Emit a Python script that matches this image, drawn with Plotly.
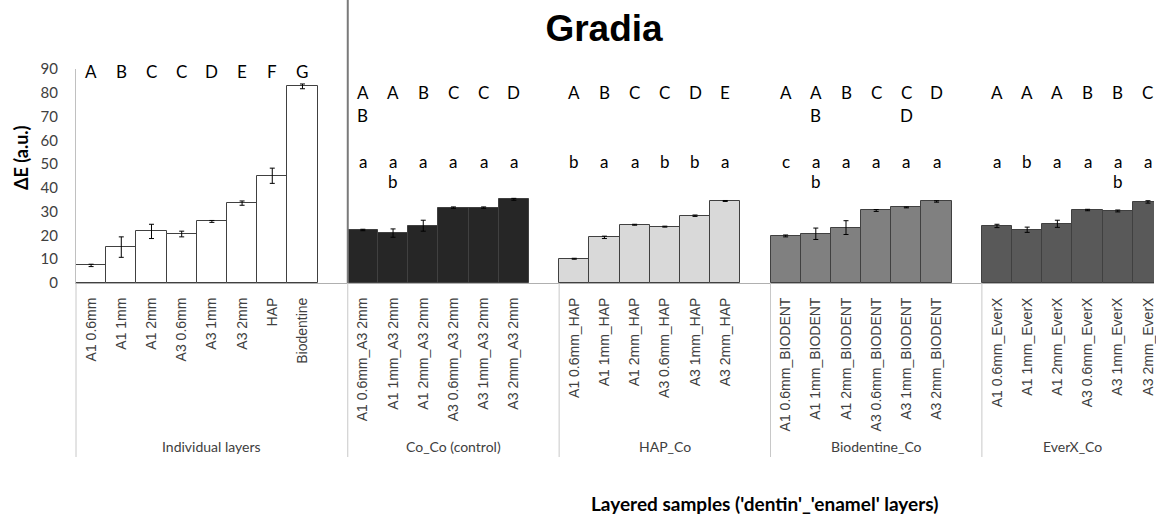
import plotly.graph_objects as go

# ---------------- data ----------------
group_names = ["Individual layers", "Co_Co (control)", "HAP_Co", "Biodentine_Co", "EverX_Co"]

ind_labels = ["A1 0.6mm", "A1 1mm", "A1 2mm", "A3 0.6mm", "A3 1mm", "A3 2mm", "HAP", "Biodentine"]
ind_values = [7.4, 15.1, 21.7, 20.6, 25.9, 33.6, 45.1, 82.7]
ind_err = [0.5, 4.3, 3.0, 1.2, 0.4, 0.9, 3.2, 1.0]

coco_labels = ["A1 0.6mm_A3 2mm", "A1 1mm_A3 2mm", "A1 2mm_A3 2mm", "A3 0.6mm_A3 2mm", "A3 1mm_A3 2mm", "A3 2mm_A3 2mm"]
coco_values = [22.3, 21.0, 24.1, 31.7, 31.7, 35.2]
coco_err = [0.3, 1.75, 2.3, 0.3, 0.3, 0.4]

hap_labels = ["A1 0.6mm_HAP", "A1 1mm_HAP", "A1 2mm_HAP", "A3 0.6mm_HAP", "A3 1mm_HAP", "A3 2mm_HAP"]
hap_values = [10.2, 19.2, 24.5, 23.7, 28.3, 34.5]
hap_err = [0.2, 0.5, 0.2, 0.2, 0.3, 0.2]

bio_labels = ["A1 0.6mm_BIODENT", "A1 1mm_BIODENT", "A1 2mm_BIODENT", "A3 0.6mm_BIODENT", "A3 1mm_BIODENT", "A3 2mm_BIODENT"]
bio_values = [19.8, 20.7, 23.3, 30.5, 31.8, 34.3]
bio_err = [0.4, 2.4, 2.9, 0.4, 0.2, 0.3]

everx_labels = ["A1 0.6mm_EverX", "A1 1mm_EverX", "A1 2mm_EverX", "A3 0.6mm_EverX", "A3 1mm_EverX", "A3 2mm_EverX"]
everx_values = [24.0, 22.4, 24.9, 30.7, 30.3, 34.1]
everx_err = [0.7, 1.1, 1.5, 0.3, 0.4, 0.5]

# significance letters
ind_upper = ["A", "B", "C", "C", "D", "E", "F", "G"]
coco_upper1 = ["A", "A", "B", "C", "C", "D"]
coco_upper2 = ["B", "", "", "", "", ""]
coco_lower1 = ["a", "a", "a", "a", "a", "a"]
coco_lower2 = ["", "b", "", "", "", ""]
hap_upper1 = ["A", "B", "C", "C", "D", "E"]
hap_upper2 = ["", "", "", "", "", ""]
hap_lower1 = ["b", "a", "a", "b", "b", "a"]
hap_lower2 = ["", "", "", "", "", ""]
bio_upper1 = ["A", "A", "B", "C", "C", "D"]
bio_upper2 = ["", "B", "", "", "D", ""]
bio_lower1 = ["c", "a", "a", "a", "a", "a"]
bio_lower2 = ["", "b", "", "", "", ""]
everx_upper1 = ["A", "A", "A", "B", "B", "C"]
everx_upper2 = ["", "", "", "", "", ""]
everx_lower1 = ["a", "b", "a", "a", "a", "a"]
everx_lower2 = ["", "", "", "", "b", ""]

# ---------------- layout helpers ----------------
colors = ["#ffffff", "#262626", "#d9d9d9", "#808080", "#595959"]
groups = [
    (ind_labels, ind_values, ind_err),
    (coco_labels, coco_values, coco_err),
    (hap_labels, hap_values, hap_err),
    (bio_labels, bio_values, bio_err),
    (everx_labels, everx_values, everx_err),
]
X_MIN, X_MAX = -0.5, 35.2

fig = go.Figure()
tickvals, ticktext = [], []
starts = []
pos = 0
group_centers = []
for gi, (labs, vals, errs) in enumerate(groups):
    starts.append(pos)
    xs = list(range(pos, pos + len(labs)))
    fig.add_trace(go.Bar(
        x=xs, y=vals, width=1.0,
        marker=dict(color=colors[gi], line=dict(color="#404040", width=1)),
        error_y=dict(type="data", array=errs, color="#000000", thickness=1, width=2.5),
        showlegend=False,
    ))
    tickvals += xs
    ticktext += labs
    last = gi == len(groups) - 1
    n_slots = len(labs) + (0 if last else 1)
    group_centers.append(pos + (n_slots - 1) / 2)
    pos += n_slots

annotations = []
letter_font = dict(family="Lato", size=17, color="#000000")

def add_letters(start, letters, yval):
    for i, t in enumerate(letters):
        if t:
            annotations.append(dict(x=start + i, y=yval, xref="x", yref="y", text=t,
                                    showarrow=False, font=letter_font,
                                    xanchor="center", yanchor="middle"))

add_letters(starts[0], ind_upper, 88.9)
layered_letters = [
    (coco_upper1, coco_upper2, coco_lower1, coco_lower2),
    (hap_upper1, hap_upper2, hap_lower1, hap_lower2),
    (bio_upper1, bio_upper2, bio_lower1, bio_lower2),
    (everx_upper1, everx_upper2, everx_lower1, everx_lower2),
]
for k, (u1, u2, l1, l2) in enumerate(layered_letters):
    s = starts[k + 1]
    add_letters(s, u1, 80.0)
    add_letters(s, u2, 70.5)
    add_letters(s, l1, 51.3)
    add_letters(s, l2, 42.6)

def xpaper(v):
    return (v - X_MIN) / (X_MAX - X_MIN)

plot_h = 515 - 69 - 232
for gi, name in enumerate(group_names):
    annotations.append(dict(x=group_centers[gi], y=-(447 - 283) / plot_h, xref="x", yref="paper",
                            text=name, showarrow=False,
                            font=dict(family="Lato", size=14, color="#404040"),
                            xanchor="center", yanchor="middle"))

# axis titles
annotations.append(dict(x=-(76 - 21) / 1080, y=(283 - 158) / plot_h, xref="paper", yref="paper",
                        text="<b>ΔE (a.u.)</b>", textangle=-90, showarrow=False,
                        font=dict(family="Lato", size=18, color="#000000"),
                        xanchor="center", yanchor="middle"))
annotations.append(dict(x=(766 - 76) / 1080, y=-(504 - 283) / plot_h, xref="paper", yref="paper",
                        text="<b>Layered samples ('dentin'_'enamel' layers)</b>", showarrow=False,
                        font=dict(family="Lato", size=19, color="#000000"),
                        xanchor="center", yanchor="middle"))

shapes = []
# group separators below axis
for s in [-0.5] + [st - 0.5 for st in starts[1:]]:
    shapes.append(dict(type="line", xref="paper", yref="paper",
                       x0=xpaper(s), x1=xpaper(s), y0=0, y1=-(457 - 283) / plot_h,
                       line=dict(color="#c8c8c8", width=1)))
# thick divider between individual layers and layered samples
shapes.append(dict(type="line", xref="paper", yref="paper",
                   x0=xpaper(starts[1] - 0.5), x1=xpaper(starts[1] - 0.5),
                   y0=0, y1=1 + 69 / plot_h,
                   line=dict(color="#7a7a7a", width=2)))

fig.update_layout(
    width=1156, height=515, autosize=False,
    margin=dict(l=76, r=0, t=69, b=232, pad=0),
    paper_bgcolor="white", plot_bgcolor="white",
    bargap=0,
    title=dict(text="<b>Gradia</b>", x=604 / 1156, xanchor="center", xref="container",
               y=1 - 28 / 515, yanchor="middle", yref="container",
               font=dict(family="Liberation Sans", size=37, color="#000000")),
    xaxis=dict(range=[X_MIN, X_MAX], tickmode="array", tickvals=tickvals, ticktext=ticktext,
               tickangle=-90, tickfont=dict(family="Liberation Sans", size=14, color="#404040"),
               showline=True, linecolor="#b0b0b0", linewidth=1, ticks="", showgrid=False,
               zeroline=False, ticklabelstandoff=8, ticklabeloverflow="allow"),
    yaxis=dict(range=[0, 90], dtick=10, tickmode="linear", tick0=0,
               tickfont=dict(family="Lato", size=15, color="#404040"),
               showline=True, linecolor="#c0c0c0", linewidth=1, ticks="", showgrid=False,
               zeroline=False, ticklabelstandoff=14),
    annotations=annotations,
    shapes=shapes,
)

fig.write_html("out.html")
